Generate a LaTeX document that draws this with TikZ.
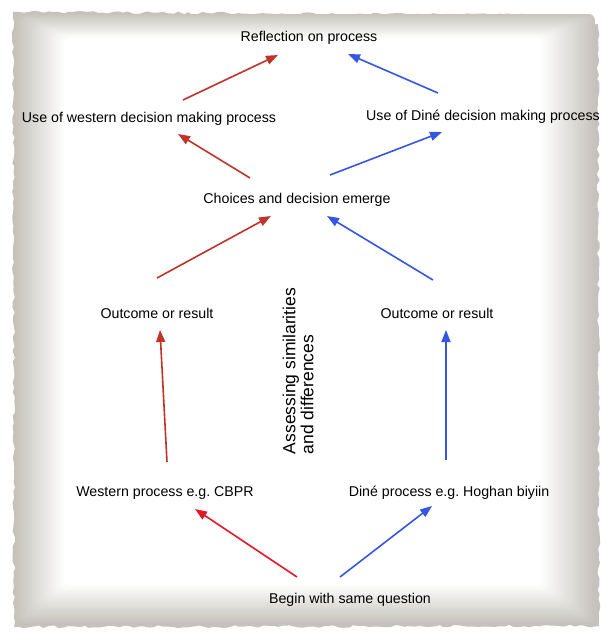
\documentclass[tikz,border=0pt]{standalone}
\usepackage{fontspec}
\setmainfont{Liberation Sans}
\usetikzlibrary{arrows.meta,decorations.pathmorphing}
\frenchspacing

\definecolor{westred}{RGB}{190,52,42}
\definecolor{questred}{RGB}{226,24,42}
\definecolor{dineblue}{RGB}{52,86,226}
\definecolor{paper}{RGB}{196,194,186}

\tikzset{
  lbl/.style={font=\fontsize{14.2}{16}\selectfont, inner sep=2pt},
  sidelbl/.style={font=\fontsize{17.5}{18}\selectfont, inner sep=2pt, rotate=90, align=left},
  westarrow/.style={westred, line width=1.6pt, -{Triangle[length=12pt,width=9pt]}},
  questarrow/.style={westarrow, questred},
  dinearrow/.style={westarrow, dineblue}
}

\begin{document}
\begin{tikzpicture}[x=1pt,y=1pt]
    \useasboundingbox (0,0) rectangle (605,-637);

    % torn paper
    \pgfmathsetseed{7}
    \fill[paper, decorate, decoration={random steps,segment length=5pt,amplitude=1.4pt}]
        (13,-12) -- (545,-15) -- (545,-21) -- (598,-24) -- (599,-626) -- (14,-627) -- cycle;
    \foreach \i [evaluate=\i as \p using int(100-4*\i)] in {1,...,25}
        \fill[paper!\p!white, rounded corners=6pt] (14+2*\i,-13-\i) rectangle (597-2.2*\i,-625+1.6*\i);

    % labels
    \node[lbl] (reflect) at (309,-38) {Reflection on process};
    \node[lbl] (westernuse) at (149,-119) {Use of western decision making process};
    \node[lbl] (dineuse) at (483,-117) {Use of Diné decision making process};
    \node[lbl] (choices) at (297,-200) {Choices and decision emerge};
    \node[lbl] (outleft) at (157,-313) {Outcome or result};
    \node[lbl] (outright) at (437,-313) {Outcome or result};
    \node[sidelbl] (assess) at (298,-371) {Assessing similarities\\and differences};
    \node[lbl] (western) at (165,-493) {Western process e.g. CBPR};
    \node[lbl] (dine) at (449,-493) {Diné process e.g. Hoghan biyiin};
    \node[lbl] (begin) at (350,-600) {Begin with same question};

    % arrows
    \draw[westarrow] ([shift={(34,19)}]westernuse.center) -- ([shift={(-31,-17)}]reflect.center);
    \draw[dinearrow] ([shift={(-45,24)}]dineuse.center) -- ([shift={(39,-16)}]reflect.center);
    \draw[westarrow] ([shift={(-47,22)}]choices.center) -- ([shift={(29,-15)}]westernuse.center);
    \draw[dinearrow] ([shift={(33,25)}]choices.center) -- ([shift={(-41,-15)}]dineuse.center);
    \draw[westarrow] ([shift={(0,35)}]outleft.center) -- ([shift={(-26,-16)}]choices.center);
    \draw[dinearrow] ([shift={(-4,33)}]outright.center) -- ([shift={(30,-16)}]choices.center);
    \draw[westarrow] ([shift={(2,31)}]western.center) -- ([shift={(3,-17)}]outleft.center);
    \draw[dinearrow] ([shift={(-3,33)}]dine.center) -- ([shift={(9,-17)}]outright.center);
    \draw[questarrow] ([shift={(-53,23)}]begin.center) -- ([shift={(30,-16)}]western.center);
    \draw[dinearrow] ([shift={(-10,23)}]begin.center) -- ([shift={(-17,-13)}]dine.center);
\end{tikzpicture}
\end{document}
